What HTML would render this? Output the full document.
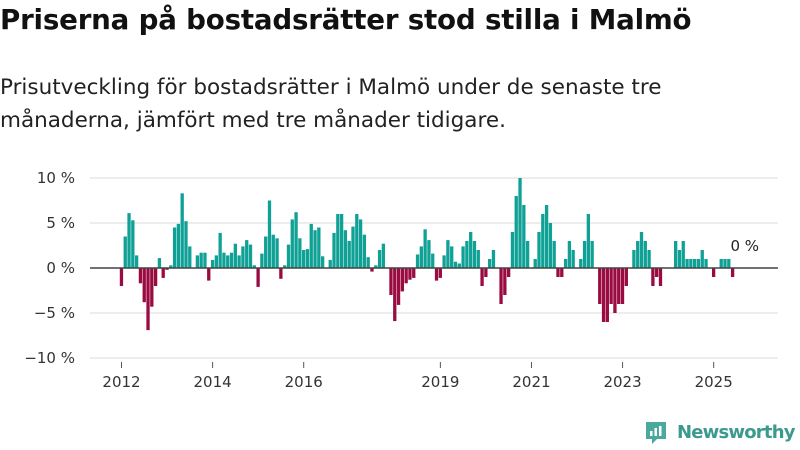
<!DOCTYPE html>
<html><head><meta charset="utf-8"><style>
body{margin:0;width:800px;height:450px;background:#fff;font-family:"Liberation Sans","DejaVu Sans",sans-serif;overflow:hidden;position:relative}
h1{position:absolute;left:0;top:3px;margin:0;font-size:27.7px;font-weight:bold;color:#111;font-family:"DejaVu Sans","Liberation Sans",sans-serif;letter-spacing:-0.2px}
p{position:absolute;left:0;top:71px;margin:0;font-size:21.5px;line-height:33px;color:#222;font-family:"DejaVu Sans","Liberation Sans",sans-serif;letter-spacing:0px}
svg text{font-family:"DejaVu Sans","Liberation Sans",sans-serif}
</style></head><body>
<h1>Priserna på bostadsrätter stod stilla i Malmö</h1>
<p>Prisutveckling för bostadsrätter i Malmö under de senaste tre<br>månaderna, jämfört med tre månader tidigare.</p>
<svg id="chart" width="800" height="450" style="position:absolute;left:0;top:0"></svg>
<script>
const values=[-2.0,3.5,6.1,5.3,1.4,-1.7,-3.8,-6.9,-4.3,-2.0,1.1,-1.1,-0.2,0.3,4.5,4.9,8.3,5.2,2.4,0,1.4,1.7,1.7,-1.4,0.9,1.4,3.9,1.7,1.4,1.7,2.7,1.4,2.4,3.1,2.6,0.3,-2.1,1.6,
3.5,7.5,3.7,3.3,-1.2,0.3,2.6,5.4,6.2,3.3,2.0,2.1,4.9,4.2,4.5,1.3,0,0.9,3.9,6.0,6.0,4.2,3.0,4.6,6.0,5.4,3.7,1.2,-0.4,0.3,2.0,2.7,0,-3.0,-5.9,-4.1,-2.6,-1.7,-1.3,-1.1,1.5,2.4,4.3,3.1,1.6,
-1.4,-1.1,1.4,3.1,2.4,0.7,0.5,2.4,3.0,4.0,3.0,2.0,-2.0,-1.0,1.0,2.0,0,-4,-3,-1,4,8,10,7,3,0,1,4,6,7,5,3,-1,-1,1,3,2,0,1,3,6,3,0,-4,
-6,-6,-4,-5,-4,-4,-2,0,2,3,4,3,2,-2,-1,-2,0,0,0,3,2,3,1,1,1,1,2,1,0,-1,0,1,1,1,-1,0];
const yTicks=[10,5,0,-5,-10];
const yTickLabels=["10 %","5 %","0 %","\u22125 %","\u221210 %"];
const xYears=[2012,2014,2016,2019,2021,2023,2025];
const startYear=2012;
const NS="http://www.w3.org/2000/svg";
const svg=document.getElementById('chart');
const X0=121.5, STEP=3.796;
const xScale=i=>X0+i*STEP;
const yScale=v=>268-v*9;
function mk(t,a){const e=document.createElementNS(NS,t);for(const k in a)e.setAttribute(k,a[k]);svg.appendChild(e);return e;}
yTicks.forEach((t,i)=>{
  const g=mk('line',{x1:90,x2:778,y1:yScale(t),y2:yScale(t),stroke:'#e2e2e2','stroke-width':1.3});
  
  
  const l=mk('text',{x:75,y:yScale(t)+5,'text-anchor':'end','font-size':15,fill:'#333'});
  l.textContent=yTickLabels[i];
  
  
});
values.forEach((v,i)=>{
  const y0=yScale(0),y1=yScale(v);
  const r=mk('rect',{x:xScale(i)-1.7,y:Math.min(y0,y1),width:3.3,height:Math.abs(y1-y0),fill:v>=0?'#0fa195':'#990b41'});
  
  
});
const z=mk('line',{x1:90,x2:778,y1:yScale(0),y2:yScale(0),stroke:'#444','stroke-width':1.6});


xYears.forEach(yr=>{
  const x=xScale((yr-startYear)*12);
  const tk=mk('line',{x1:x,x2:x,y1:362,y2:368,stroke:'#555','stroke-width':1});
  
  
  const t=mk('text',{x:x,y:387,'text-anchor':'middle','font-size':15,fill:'#333'});
  t.textContent=yr;
  
  
});
const last=values.length-1;
const lab=mk('text',{x:xScale(last)-6,y:yScale(values[last])-17,'font-size':15,fill:'#222'});
lab.textContent=Math.round(values[last])+" %";


</script>
<div style="position:absolute;left:644px;top:419px;display:flex;align-items:center;color:#3a9a8e;font-weight:bold;font-size:18px;font-family:'DejaVu Sans','Liberation Sans',sans-serif">
<svg width="24" height="26"><path d="M2 3h20v17h-9l-5 5v-5H2z" fill="#4aa99c"/><rect x="6" y="12" width="2.5" height="5" fill="#fff"/><rect x="10.5" y="9" width="2.5" height="8" fill="#fff"/><rect x="15" y="7" width="2.5" height="10" fill="#fff"/></svg>
<span style="margin-left:9px;letter-spacing:-0.8px">Newsworthy</span></div>
</body></html>
